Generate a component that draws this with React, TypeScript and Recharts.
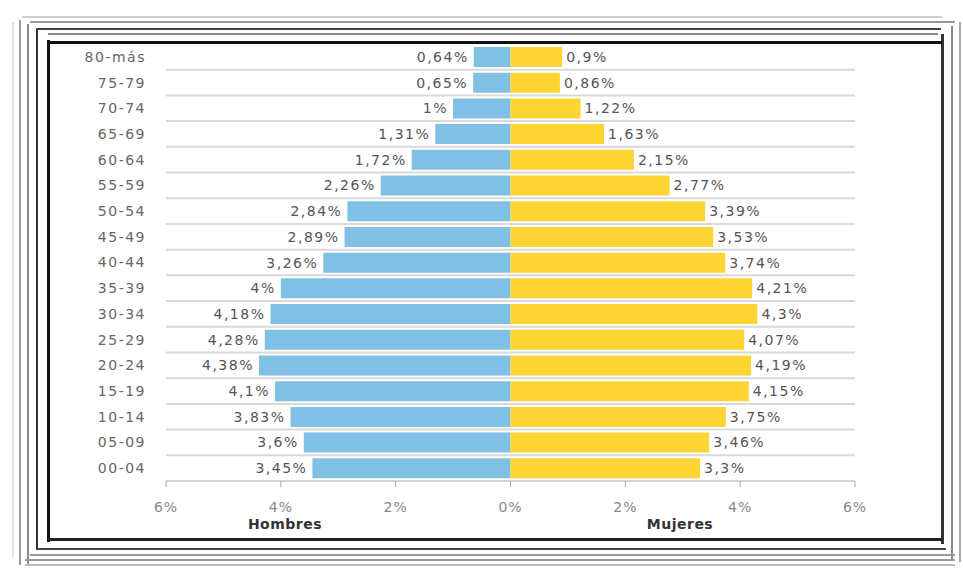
import React from 'react';
import { BarChart, Bar, XAxis, YAxis, CartesianGrid, LabelList } from 'recharts';

const ageGroups = ['80-más', '75-79', '70-74', '65-69', '60-64', '55-59', '50-54', '45-49', '40-44', '35-39', '30-34', '25-29', '20-24', '15-19', '10-14', '05-09', '00-04'];
const hombres = [0.64, 0.65, 1, 1.31, 1.72, 2.26, 2.84, 2.89, 3.26, 4, 4.18, 4.28, 4.38, 4.1, 3.83, 3.6, 3.45];
const mujeres = [0.9, 0.86, 1.22, 1.63, 2.15, 2.77, 3.39, 3.53, 3.74, 4.21, 4.3, 4.07, 4.19, 4.15, 3.75, 3.46, 3.3];
const xTicks = [-6, -4, -2, 0, 2, 4, 6];

const data = ageGroups.map((age, i) => ({ age, hombres: -hombres[i], mujeres: mujeres[i] }));

const FONT = '"DejaVu Sans", Verdana, sans-serif';
const fmt = (v: number) => `${String(Math.abs(v)).replace('.', ',')}%`;

// decorative frame lines around the picture: [left, top, width, height, color]
const frame: [number, number, number, number, string][] = [
  [12, 22, 2, 535, '#e2e2e2'],
  [19, 20, 2, 545, '#9a9a9a'],
  [27, 24, 2, 540, '#8a8a8a'],
  [36, 28, 2, 520, '#333'],
  [47, 40, 3, 502, '#111'],
  [941, 34, 3, 510, '#333'],
  [951, 26, 2, 535, '#888'],
  [959, 22, 2, 540, '#aaa'],
  [22, 16, 920, 2, '#cfcfcf'],
  [30, 21, 925, 2, '#999'],
  [36, 28, 905, 2, '#444'],
  [48, 33, 890, 2, '#888'],
  [48, 41, 894, 3, '#111'],
  [48, 538, 894, 3, '#222'],
  [36, 548, 910, 2, '#444'],
  [30, 554, 925, 2, '#999'],
  [25, 559, 930, 2, '#999'],
  [25, 564, 930, 2, '#bbb'],
];

const HLabel = (props: any) => {
  const { x, y, width, height, value } = props;
  const left = Math.min(x, x + width);
  return (
    <text x={left - 5} y={y + height / 2} dy="0.35em" textAnchor="end" fill="#555" fontSize={14} letterSpacing={1.5} fontFamily={FONT}>
      {fmt(value)}
    </text>
  );
};

const MLabel = (props: any) => {
  const { x, y, width, height, value } = props;
  const right = Math.max(x, x + width);
  return (
    <text x={right + 4} y={y + height / 2} dy="0.35em" textAnchor="start" fill="#555" fontSize={14} letterSpacing={1.5} fontFamily={FONT}>
      {fmt(value)}
    </text>
  );
};

const App: React.FC = () => {
  return (
    <div style={{ position: 'absolute', left: 0, top: 0, width: 963, height: 569, background: '#fff', fontFamily: FONT }}>
      {frame.map(([l, t, w, h, c], i) => (
        <div key={i} style={{ position: 'absolute', left: l, top: t, width: w, height: h, background: c }} />
      ))}
      <div style={{ position: 'absolute', left: 0, top: 0 }}>
        <BarChart
          width={963}
          height={569}
          data={data}
          layout="vertical"
          stackOffset="sign"
          margin={{ top: 44, right: 108, left: 66, bottom: 58 }}
          barSize={20}
        >
          <CartesianGrid
            vertical={false}
            stroke="#d9d9d9"
            strokeWidth={2}
            horizontalCoordinatesGenerator={({ offset }: any) =>
              ageGroups.slice(1).map((_, i) => offset.top + ((i + 1) * offset.height) / ageGroups.length)
            }
          />
          <XAxis
            type="number"
            domain={[-6, 6]}
            ticks={xTicks}
            tickFormatter={fmt}
            stroke="#aaa"
            tickSize={6}
            tickMargin={15}
            height={30}
            tick={{ fill: '#888', fontSize: 14, fontFamily: FONT, letterSpacing: 1 }}
          />
          <YAxis
            type="category"
            dataKey="age"
            width={100}
            axisLine={false}
            tickLine={false}
            tickSize={0}
            tickMargin={20}
            tick={{ fill: '#666', fontSize: 14, fontFamily: FONT, letterSpacing: 1.5 }}
          />
          <Bar dataKey="hombres" stackId="a" fill="#80c0e4" isAnimationActive={false}>
            <LabelList dataKey="hombres" content={HLabel} />
          </Bar>
          <Bar dataKey="mujeres" stackId="a" fill="#fcd434" isAnimationActive={false}>
            <LabelList dataKey="mujeres" content={MLabel} />
          </Bar>
        </BarChart>
      </div>
      <div style={{ position: 'absolute', left: 235, top: 516, width: 100, textAlign: 'center', fontWeight: 'bold', fontSize: 14, color: '#333', letterSpacing: 0.5 }}>
        Hombres
      </div>
      <div style={{ position: 'absolute', left: 630, top: 516, width: 100, textAlign: 'center', fontWeight: 'bold', fontSize: 14, color: '#333', letterSpacing: 0.5 }}>
        Mujeres
      </div>
    </div>
  );
};

export default App;
